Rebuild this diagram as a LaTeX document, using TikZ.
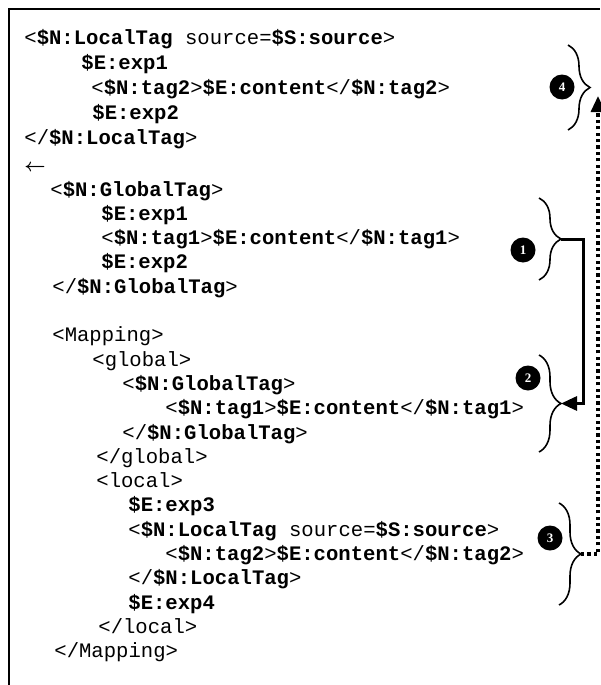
\documentclass[tikz,border=0pt]{standalone}
\usepackage{fontspec}
\setmainfont{Liberation Serif}
\newfontfamily\codefont{Liberation Mono}
\usetikzlibrary{arrows.meta,decorations.pathreplacing}

\newcommand{\nvar}[1]{\textbf{\$N:#1}}
\newcommand{\evar}[1]{\textbf{\$E:#1}}
\newcommand{\svar}[1]{\textbf{\$S:#1}}

\tikzset{
  codeline/.style={anchor=base west,inner sep=0pt,font=\codefont\fontsize{10.3}{12}\selectfont},
  numdot/.style={circle,fill=black,text=white,inner sep=0pt,minimum size=12.5pt,
    font=\bfseries\fontsize{6.5}{7}\selectfont},
  bracebar/.style={decorate,decoration={brace,amplitude=11pt},line width=0.8pt},
  maplink/.style={line width=1.5pt,-{Triangle[length=8pt,width=7pt]}},
  backlink/.style={line width=1.6pt,dash pattern=on 1.6pt off 1.6pt,
    -{Triangle[length=8pt,width=7pt]}}
}

\begin{document}
\begin{tikzpicture}[x=0.5pt,y=-0.5pt]
  \useasboundingbox (0,0) rectangle (600,685);
  \draw[line width=1pt] (9,685) -- (9,9) -- (600,9);

  \node[codeline] (l1) at (24,44) {<\nvar{LocalTag} source=\svar{source}>};
  \node[codeline] (l2) at (81,69) {\evar{exp1}};
  \node[codeline] (l3) at (91,94) {<\nvar{tag2}>\evar{content}</\nvar{tag2}>};
  \node[codeline] (l4) at (92,119) {\evar{exp2}};
  \node[codeline] (l5) at (24,144) {</\nvar{LocalTag}>};
  \node[codeline,font=\fontsize{9.5}{10}\selectfont\mathversion{bold}] (l6) at (24,171) {$\leftarrow$};
  \node[codeline] (l7) at (50,196) {<\nvar{GlobalTag}>};
  \node[codeline] (l8) at (101,220.3) {\evar{exp1}};
  \node[codeline] (l9) at (101,244.6) {<\nvar{tag1}>\evar{content}</\nvar{tag1}>};
  \node[codeline] (l10) at (101,268.9) {\evar{exp2}};
  \node[codeline] (l11) at (52,293.2) {</\nvar{GlobalTag}>};
  \node[codeline] (l13) at (52,341.8) {<Mapping>};
  \node[codeline] (l14) at (92,366.1) {<global>};
  \node[codeline] (l15) at (122,390.4) {<\nvar{GlobalTag}>};
  \node[codeline] (l16) at (165,414.7) {<\nvar{tag1}>\evar{content}</\nvar{tag1}>};
  \node[codeline] (l17) at (122,439) {</\nvar{GlobalTag}>};
  \node[codeline] (l18) at (96,463.3) {</global>};
  \node[codeline] (l19) at (96,487.6) {<local>};
  \node[codeline] (l20) at (128,511.9) {\evar{exp3}};
  \node[codeline] (l21) at (128,536.2) {<\nvar{LocalTag} source=\svar{source}>};
  \node[codeline] (l22) at (165,560.5) {<\nvar{tag2}>\evar{content}</\nvar{tag2}>};
  \node[codeline] (l23) at (128,584.8) {</\nvar{LocalTag}>};
  \node[codeline] (l24) at (128,609.1) {\evar{exp4}};
  \node[codeline] (l25) at (98,633.4) {</local>};
  \node[codeline] (l26) at (54,657.7) {</Mapping>};

  \draw[bracebar] (568,45) -- (568,130);
  \draw[bracebar] (539,198) -- (539,280);
  \draw[bracebar] (539,355) -- (539,452);
  \draw[bracebar] (559,503) -- (559,605);
  \coordinate (b4) at (590,87.5);
  \coordinate (b1) at (561,239);
  \coordinate (b2) at (561,403.5);
  \coordinate (b3) at (581,554);
  \coordinate (in4) at (598,96);

  \node[numdot] (n4) at (562,87) {4};
  \node[numdot] (n1) at (523,250) {1};
  \node[numdot] (n2) at (528,378) {2};
  \node[numdot] (n3) at (550,538) {3};

  \draw[maplink] (b1) -- ++(22,0) |- (b2);
  \draw[backlink] (b3) -| (in4);
\end{tikzpicture}
\end{document}
